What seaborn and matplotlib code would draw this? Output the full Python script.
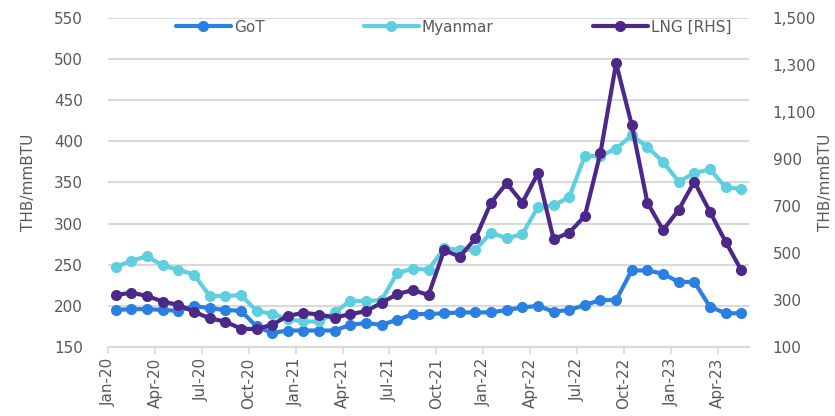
import matplotlib
matplotlib.use("Agg")
import matplotlib.pyplot as plt
import matplotlib.ticker as mticker
import seaborn as sns
import pandas as pd
import numpy as np

sns.set_theme(style="white")
plt.rcParams['font.family'] = ['DejaVu Sans']

# Monthly prices, Jan-20 .. May-23
months = pd.date_range('2020-01-01', '2023-05-01', freq='MS')
got = [195, 196, 196, 195, 194, 200, 197, 195, 194, 175, 167, 170, 170, 170,
       170, 177, 179, 177, 183, 190, 190, 191, 192, 192, 192, 195, 198, 200,
       193, 195, 201, 207, 207, 243, 243, 239, 229, 229, 199, 191, 191]
myanmar = [247, 255, 260, 249, 244, 238, 212, 212, 213, 194, 190, 184, 181, 181,
           192, 206, 206, 207, 240, 245, 244, 270, 268, 268, 289, 282, 287, 320,
           322, 332, 382, 382, 391, 407, 393, 375, 351, 361, 366, 344, 342]
lng = [321, 331, 317, 293, 279, 250, 222, 208, 178, 176, 195, 232, 245, 238,
       225, 240, 252, 288, 325, 342, 321, 512, 484, 562, 714, 796, 714, 838,
       558, 586, 657, 926, 1306, 1044, 714, 597, 683, 803, 675, 548, 427]

df = pd.DataFrame({'month': months, 'GoT': got, 'Myanmar': myanmar, 'LNG': lng})
df['pos'] = np.arange(len(df))

c_got = '#2B7FE0'
c_mya = '#5DCFDF'
c_lng = '#4C2889'
grey = '#595959'
grid = '#D9D9D9'

fig = plt.figure(figsize=(8.35, 4.16), dpi=100)
ax = fig.add_axes([108 / 835, 1 - 347 / 416, 641 / 835, 329.3 / 416])
ax2 = ax.twinx()

line_kw = dict(marker='o', markersize=8, linewidth=3, markeredgewidth=0)
sns.lineplot(data=df, x='pos', y='GoT', color=c_got, label='GoT', ax=ax, **line_kw)
sns.lineplot(data=df, x='pos', y='Myanmar', color=c_mya, label='Myanmar', ax=ax, **line_kw)
sns.lineplot(data=df, x='pos', y='LNG', color=c_lng, label='LNG [RHS]', ax=ax2, **line_kw)

h1, l1 = ax.get_legend_handles_labels()
h2, l2 = ax2.get_legend_handles_labels()
for a in (ax, ax2):
    if a.get_legend() is not None:
        a.get_legend().remove()

# axes limits / ticks
ax.set_xlim(-0.5, len(df) - 0.5)
ax.set_ylim(150, 550)
ax.set_yticks(np.arange(150, 551, 50))
ax2.set_ylim(100, 1500)
ax2.set_yticks(np.arange(100, 1501, 200))
ax2.yaxis.set_major_formatter(mticker.StrMethodFormatter('{x:,.0f}'))

tick_pos = df['pos'][::3] - 0.5
ax.set_xticks(tick_pos)
ax.set_xticklabels(df['month'][::3].dt.strftime('%b-%y'), rotation=90)

ax.yaxis.grid(True, color=grid, linewidth=1.5)
ax.set_axisbelow(True)
for a in (ax, ax2):
    for s in ['left', 'right', 'top', 'bottom']:
        a.spines[s].set_visible(False)
ax.spines['bottom'].set_visible(True)
ax.spines['bottom'].set_color(grid)
ax.spines['bottom'].set_linewidth(1.5)

ax.tick_params(axis='x', bottom=True, length=5, width=1.2, color=grid,
               labelsize=11, labelcolor=grey, pad=3)
ax.tick_params(axis='y', left=False, length=0, labelsize=11, labelcolor=grey, pad=18)
ax2.tick_params(axis='y', right=False, length=0, labelsize=11, labelcolor=grey, pad=17)

ax.set_xlabel('')
ax.set_ylabel('THB/mmBTU', color=grey, fontsize=11)
ax.yaxis.set_label_coords(-0.112, 0.5)
ax2.set_ylabel('THB/mmBTU', color=grey, fontsize=11, rotation=90)
ax2.yaxis.set_label_coords(1.108, 0.5)

fig.legend(h1 + h2, l1 + l2, loc='center', bbox_to_anchor=(0.543, 0.935),
           ncol=3, frameon=False, fontsize=11, handlelength=3.6,
           columnspacing=6.5, handletextpad=0.2, labelcolor=grey)

fig.savefig('out.png', dpi=100)
